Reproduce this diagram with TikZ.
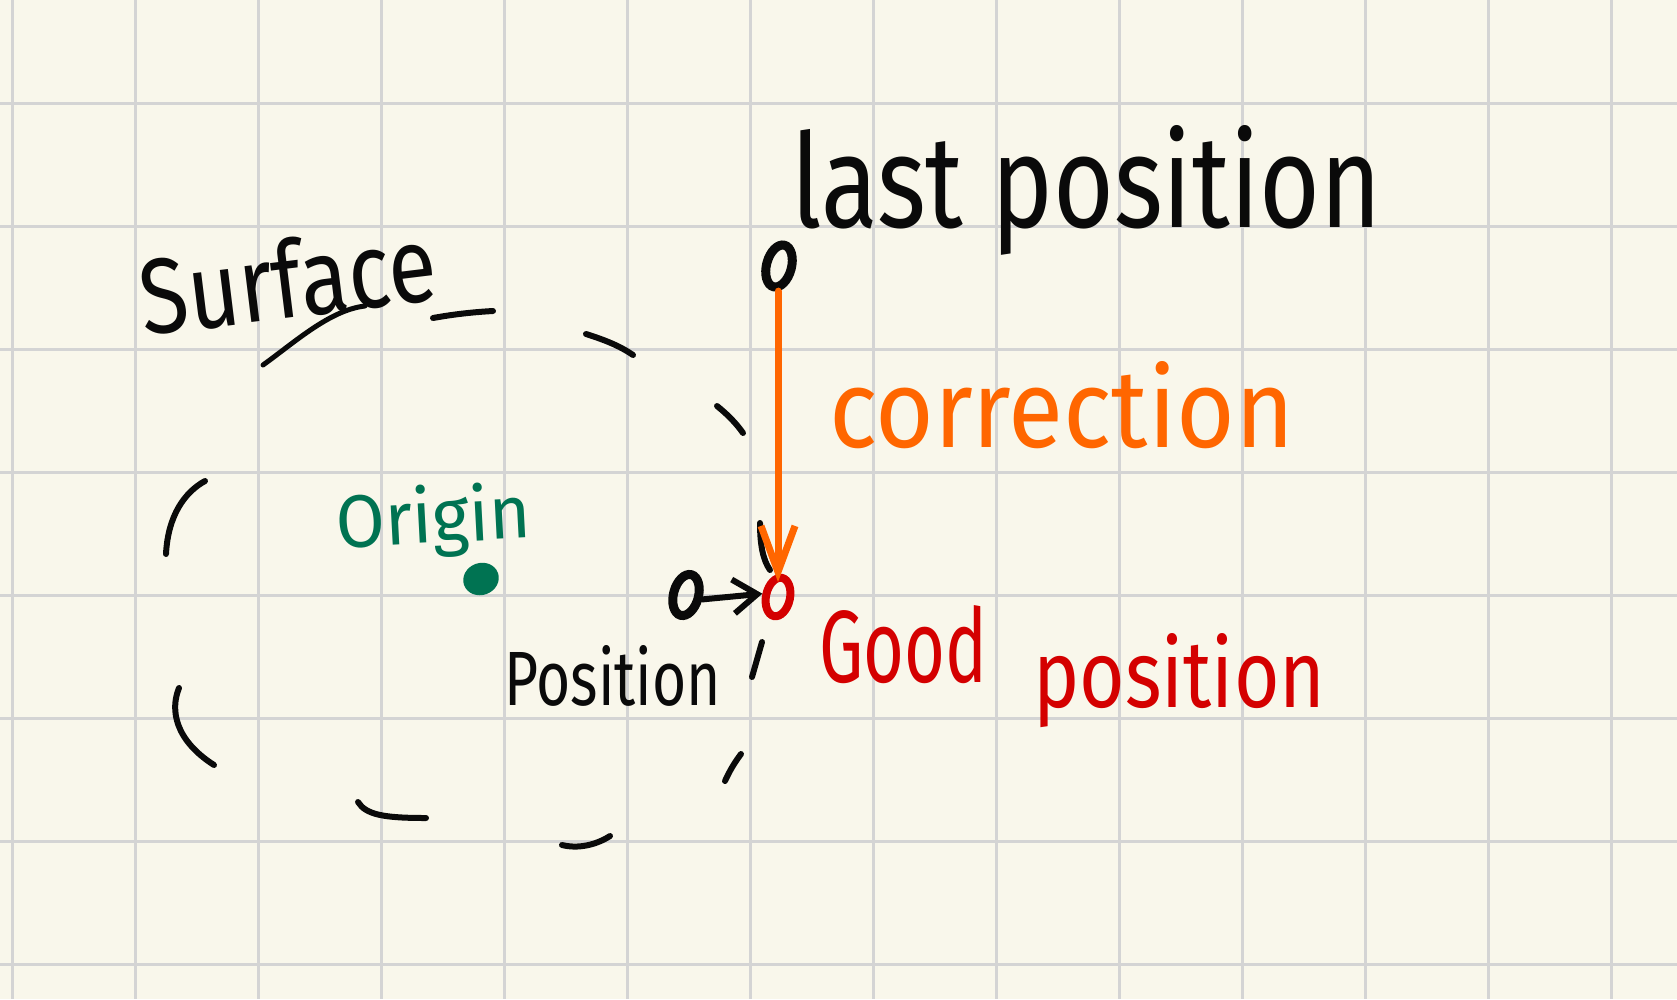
\documentclass[tikz,border=0pt]{standalone}
\usepackage{fontspec}
\setmainfont{Fira Sans}
\usepackage{graphicx}
\usetikzlibrary{shapes.geometric,arrows.meta}
\definecolor{paper}{HTML}{F9F7EB}
\definecolor{gridc}{HTML}{D4D4D4}
\definecolor{inkc}{HTML}{0A0A0A}
\definecolor{orangec}{HTML}{FF6600}
\definecolor{redc}{HTML}{D40000}
\definecolor{greenc}{HTML}{007352}
\begin{document}
\begin{tikzpicture}[x=1pt,y=-1pt,
  gridline/.style={gridc,line width=3pt},
  ink/.style={inkc,line width=6pt,line cap=round,line join=round},
  marker/.style={ellipse,draw,inner sep=0pt,line width=9pt},
  lbl/.style={inner sep=0pt,anchor=base west}]
\fill[paper] (0,0) rectangle (1677,999);
\useasboundingbox (0,0) rectangle (1677,999);
\foreach \x in {12,135,...,1611} \draw[gridline] (\x,0) -- (\x,999);
\foreach \y in {103,226,...,964} \draw[gridline] (0,\y) -- (1677,\y);

% labels
\node[lbl,text=inkc] (lastlbl) at (791,227) {\resizebox{590pt}{102pt}{last position}};
\node[lbl,text=orangec] (corrlbl) at (829,447) {\resizebox{465pt}{86pt}{correction}};
\node[lbl,text=inkc,rotate=7] (surflbl) at (144,336) {\resizebox{298pt}{80pt}{Surface}};
\node[lbl,text=greenc,rotate=3] (originlbl) at (337,548) {\resizebox{195pt}{58pt}{Origin}};
\node[lbl,text=inkc] (poslbl) at (504,705) {\resizebox{217pt}{60pt}{Position}};
\node[lbl,text=redc] (goodlbl) at (819,682) {\resizebox{168pt}{77pt}{Good}};
\node[lbl,text=redc] (goodposlbl) at (1033,707) {\resizebox{292pt}{74pt}{position}};

% surface pointer
\draw[ink,line width=5pt] (263,365) .. controls (295,342) and (330,310) .. (365,306);

% dashed surface (hand-drawn dashes)
\draw[ink] (433,318) .. controls (455,314) and (475,312) .. (493,311);
\draw[ink] (586,334) .. controls (605,340) and (620,346) .. (633,355);
\draw[ink] (717,406) .. controls (727,414) and (736,423) .. (743,433);
\draw[ink] (760,523) .. controls (760,545) and (763,560) .. (770,570);
\draw[ink] (762,642) -- (752,677);
\draw[ink] (741,754) .. controls (735,762) and (730,770) .. (725,781);
\draw[ink] (562,845) .. controls (578,849) and (596,845) .. (610,836);
\draw[ink] (358,802) .. controls (366,815) and (385,818) .. (426,818);
\draw[ink] (179,688) .. controls (170,710) and (175,740) .. (214,765);
\draw[ink] (205,481) .. controls (185,492) and (168,515) .. (166,554);

% origin
\node[ellipse,fill=greenc,minimum width=36pt,minimum height=32pt,inner sep=0pt,rotate=20] (origin) at (481,579) {};

% markers
\node[marker,inkc,minimum width=25pt,minimum height=43pt,rotate=-15] (lastpos) at (779,266) {};
\node[marker,inkc,minimum width=25pt,minimum height=42pt,rotate=-15] (curpos) at (686,595) {};
\node[marker,redc,line width=8pt,minimum width=24pt,minimum height=39pt,rotate=-12] (goodpos) at (778,597) {};

% arrows
\draw[orangec,line width=7pt,line cap=round,-{Straight Barb[length=46pt,width=34pt,line width=7pt]}]
  (lastpos.south -| goodpos.center) -- ([yshift=15pt]goodpos.center);
\draw[inkc,line width=6pt,line cap=round,-{Straight Barb[length=24pt,width=34pt,line width=6pt]}]
  (curpos.east) -- (goodpos.west);
\end{tikzpicture}
\end{document}
